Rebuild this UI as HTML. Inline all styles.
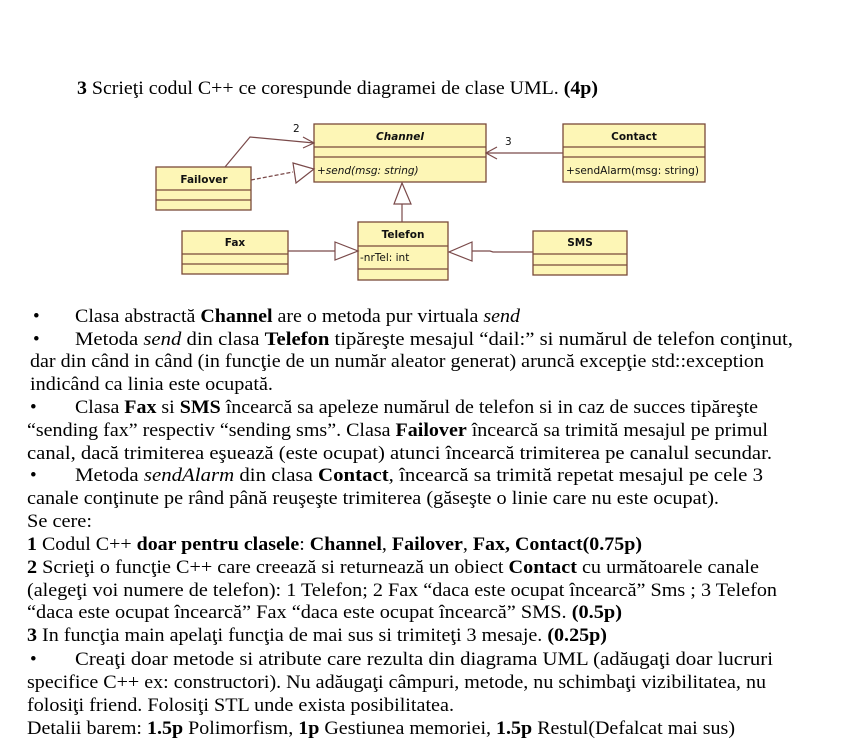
<!DOCTYPE html>
<html><head><meta charset="utf-8"><style>
html,body{margin:0;padding:0;background:#fff;width:865px;height:752px;overflow:hidden}
svg{display:block}
.t{font-family:"Liberation Serif",serif;font-size:19px;fill:#000}
.d{font-family:"DejaVu Sans","Liberation Sans",sans-serif;font-size:10.5px;fill:#111}
.b{font-weight:bold}
.i{font-style:italic}
</style></head><body>
<svg width="865" height="752" viewBox="0 0 865 752" xmlns="http://www.w3.org/2000/svg">
<g stroke="#7a4a3a" stroke-width="1.3" fill="#fdf6b6">
<rect x="314" y="124" width="172" height="58"/>
<line x1="314" y1="147" x2="486" y2="147"/><line x1="314" y1="157" x2="486" y2="157"/>
<rect x="563" y="124" width="142" height="58"/>
<line x1="563" y1="147" x2="705" y2="147"/><line x1="563" y1="157" x2="705" y2="157"/>
<rect x="156" y="167" width="95" height="43"/>
<line x1="156" y1="190" x2="251" y2="190"/><line x1="156" y1="200" x2="251" y2="200"/>
<rect x="358" y="222" width="90" height="58"/>
<line x1="358" y1="246" x2="448" y2="246"/><line x1="358" y1="269" x2="448" y2="269"/>
<rect x="182" y="231" width="106" height="43"/>
<line x1="182" y1="254" x2="288" y2="254"/><line x1="182" y1="264" x2="288" y2="264"/>
<rect x="533" y="231" width="94" height="44"/>
<line x1="533" y1="254" x2="627" y2="254"/><line x1="533" y1="265" x2="627" y2="265"/>
</g>
<g stroke="#7a4a4a" stroke-width="1.2" fill="none">
<polyline points="225,167 250,137 314,143"/>
<polyline points="303,137 314,143 303,148"/>
<line x1="251" y1="180" x2="293" y2="172" stroke-dasharray="4,2"/>
<polygon points="293,163 314,169 296,183" fill="#fff"/>
<line x1="563" y1="153" x2="486" y2="153"/>
<polyline points="497,147 486,153 497,159"/>
<line x1="402" y1="222" x2="402" y2="204"/>
<polygon points="394,204 411,204 402,183" fill="#fff"/>
<line x1="288" y1="251" x2="335" y2="251"/>
<polygon points="335,242 358,251 335,260" fill="#fff"/>
<polyline points="533,252 493,252 490,251 472,251"/>
<polygon points="472,242 449,252 472,261" fill="#fff"/>
</g>
<text class="d b i" x="400" y="140" text-anchor="middle">Channel</text>
<text class="d b" x="634" y="140" text-anchor="middle">Contact</text>
<text class="d b" x="204" y="183" text-anchor="middle">Failover</text>
<text class="d b" x="403" y="238" text-anchor="middle">Telefon</text>
<text class="d b" x="235" y="246" text-anchor="middle">Fax</text>
<text class="d b" x="580" y="246" text-anchor="middle">SMS</text>
<text class="d i" x="317" y="174">+send(msg: string)</text>
<text class="d" x="566" y="174" textLength="133" lengthAdjust="spacingAndGlyphs">+sendAlarm(msg: string)</text>
<text class="d" x="360" y="261">-nrTel: int</text>
<text class="d" x="293" y="132">2</text>
<text class="d" x="505" y="145">3</text>

<text class="t" x="77" y="94" textLength="521" lengthAdjust="spacingAndGlyphs"><tspan class="b">3</tspan> Scrieţi codul C++ ce corespunde diagramei de clase UML. <tspan class="b">(4p)</tspan></text>
<g class="t">
<text class="t" x="33" y="322">•</text>
<text class="t" x="75" y="322" textLength="445" lengthAdjust="spacingAndGlyphs">Clasa abstractă <tspan class="b">Channel</tspan> are o metoda pur virtuala <tspan class="i">send</tspan></text>
<text class="t" x="33" y="345">•</text>
<text class="t" x="75" y="345" textLength="718" lengthAdjust="spacingAndGlyphs">Metoda <tspan class="i">send</tspan> din clasa <tspan class="b">Telefon</tspan> tipăreşte mesajul “dail:” si numărul de telefon conţinut,</text>
<text class="t" x="30" y="367" textLength="734" lengthAdjust="spacingAndGlyphs">dar din când in când (in funcţie de un număr aleator generat) aruncă excepţie std::exception</text>
<text class="t" x="30" y="390" textLength="243" lengthAdjust="spacingAndGlyphs">indicând ca linia este ocupată.</text>
<text class="t" x="30" y="413">•</text>
<text class="t" x="75" y="413" textLength="683" lengthAdjust="spacingAndGlyphs">Clasa <tspan class="b">Fax</tspan> si <tspan class="b">SMS</tspan> încearcă sa apeleze numărul de telefon si in caz de succes tipăreşte</text>
<text class="t" x="27" y="436" textLength="741" lengthAdjust="spacingAndGlyphs">“sending fax” respectiv “sending sms”. Clasa <tspan class="b">Failover</tspan> încearcă sa trimită mesajul pe primul</text>
<text class="t" x="27" y="459" textLength="745" lengthAdjust="spacingAndGlyphs">canal, dacă trimiterea eşuează (este ocupat) atunci încearcă trimiterea pe canalul secundar.</text>
<text class="t" x="30" y="481">•</text>
<text class="t" x="75" y="481" textLength="688" lengthAdjust="spacingAndGlyphs">Metoda <tspan class="i">sendAlarm</tspan> din clasa <tspan class="b">Contact</tspan>, încearcă sa trimită repetat mesajul pe cele 3</text>
<text class="t" x="27" y="504" textLength="692" lengthAdjust="spacingAndGlyphs">canale conţinute pe rând până reuşeşte trimiterea (găseşte o linie care nu este ocupat).</text>
<text class="t" x="27" y="527" textLength="65" lengthAdjust="spacingAndGlyphs">Se cere:</text>
<text class="t" x="27" y="550" textLength="615" lengthAdjust="spacingAndGlyphs"><tspan class="b">1</tspan> Codul C++ <tspan class="b">doar pentru clasele</tspan>: <tspan class="b">Channel</tspan>, <tspan class="b">Failover</tspan>, <tspan class="b">Fax, Contact(0.75p)</tspan></text>
<text class="t" x="27" y="573" textLength="732" lengthAdjust="spacingAndGlyphs"><tspan class="b">2</tspan> Scrieţi o funcţie C++ care creează  si returnează un obiect <tspan class="b">Contact</tspan> cu următoarele canale</text>
<text class="t" x="27" y="596" textLength="750" lengthAdjust="spacingAndGlyphs">(alegeţi voi numere de telefon): 1 Telefon;  2 Fax “daca este ocupat încearcă” Sms ; 3 Telefon</text>
<text class="t" x="27" y="618" textLength="595" lengthAdjust="spacingAndGlyphs">“daca este ocupat încearcă”  Fax “daca este ocupat încearcă” SMS. <tspan class="b">(0.5p)</tspan></text>
<text class="t" x="27" y="641" textLength="580" lengthAdjust="spacingAndGlyphs"><tspan class="b">3</tspan> In funcţia main apelaţi funcţia de mai sus si trimiteţi 3 mesaje. <tspan class="b">(0.25p)</tspan></text>
<text class="t" x="30" y="665">•</text>
<text class="t" x="75" y="665" textLength="698" lengthAdjust="spacingAndGlyphs">Creaţi doar metode si atribute care rezulta din diagrama UML (adăugaţi doar lucruri</text>
<text class="t" x="27" y="688" textLength="739" lengthAdjust="spacingAndGlyphs">specifice C++ ex: constructori). Nu adăugaţi câmpuri, metode, nu schimbaţi vizibilitatea, nu</text>
<text class="t" x="27" y="711" textLength="427" lengthAdjust="spacingAndGlyphs">folosiţi friend. Folosiţi STL unde exista posibilitatea.</text>
<text class="t" x="27" y="734" textLength="708" lengthAdjust="spacingAndGlyphs">Detalii barem: <tspan class="b">1.5p</tspan> Polimorfism, <tspan class="b">1p</tspan> Gestiunea memoriei, <tspan class="b">1.5p</tspan> Restul(Defalcat mai sus)</text>
</g>
</svg>
</body></html>
